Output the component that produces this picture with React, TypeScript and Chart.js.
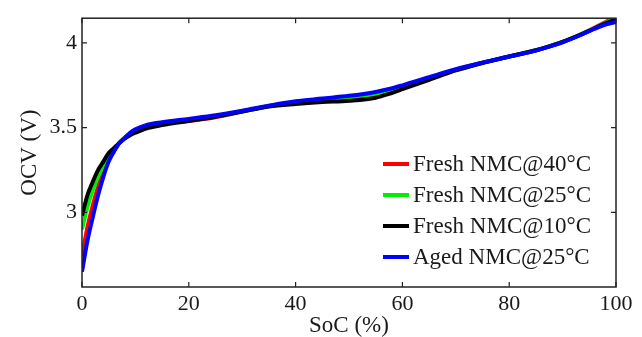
import React, { useEffect, useRef } from "react";
import { Chart, registerables } from "chart.js";

Chart.register(...registerables);

const soc = [0, 1, 2, 3, 4, 5, 6, 7, 8, 9, 10, 12, 15, 20, 25, 30, 35, 40, 45, 50, 55, 57.5, 60, 65, 70, 75, 80, 85, 87.5, 90, 92.5, 95, 97.5, 100];
const fresh40 = [2.74, 2.91, 3.04, 3.15, 3.24, 3.31, 3.37, 3.41, 3.44, 3.465, 3.485, 3.51, 3.525, 3.54, 3.562, 3.595, 3.628, 3.652, 3.668, 3.682, 3.703, 3.72, 3.742, 3.793, 3.843, 3.884, 3.92, 3.957, 3.98, 4.006, 4.038, 4.075, 4.115, 4.155];
const fresh25 = [2.90, 3.03, 3.13, 3.21, 3.28, 3.33, 3.37, 3.41, 3.44, 3.465, 3.48, 3.505, 3.522, 3.545, 3.567, 3.597, 3.628, 3.65, 3.662, 3.675, 3.695, 3.714, 3.737, 3.789, 3.841, 3.883, 3.92, 3.957, 3.98, 4.006, 4.037, 4.073, 4.11, 4.145];
const fresh10 = [2.98, 3.10, 3.18, 3.25, 3.30, 3.35, 3.38, 3.41, 3.435, 3.455, 3.47, 3.495, 3.515, 3.54, 3.565, 3.595, 3.625, 3.64, 3.651, 3.659, 3.677, 3.70, 3.727, 3.782, 3.838, 3.882, 3.92, 3.957, 3.98, 4.006, 4.037, 4.072, 4.108, 4.14];
const aged25 = [2.65, 2.83, 2.97, 3.10, 3.21, 3.30, 3.36, 3.41, 3.44, 3.47, 3.49, 3.515, 3.532, 3.552, 3.573, 3.60, 3.63, 3.656, 3.672, 3.688, 3.711, 3.728, 3.75, 3.798, 3.845, 3.884, 3.92, 3.955, 3.978, 4.004, 4.035, 4.07, 4.103, 4.124];

const seriesLabels = ["Fresh NMC@40°C", "Fresh NMC@25°C", "Fresh NMC@10°C", "Aged NMC@25°C"];
const seriesColors = ["#ff0000", "#00ee00", "#000000", "#0000ff"];
const seriesValues = [fresh40, fresh25, fresh10, aged25];
const xTicks = [0, 20, 40, 60, 80, 100];
const yTicks = [3, 3.5, 4];

const FONT = "'Liberation Serif', 'Times New Roman', serif";

const framePlugin = {
  id: "frame",
  afterDraw(chart: any) {
    const { ctx, chartArea } = chart;
    const { left, right, top, bottom } = chartArea;
    const xs = chart.scales.x;
    const ys = chart.scales.y;
    ctx.save();
    ctx.strokeStyle = "#222";
    ctx.lineWidth = 1.5;
    ctx.strokeRect(left, top, right - left, bottom - top);
    ctx.lineWidth = 1.2;
    const tl = 5;
    ctx.beginPath();
    xTicks.forEach((v) => {
      const px = xs.getPixelForValue(v);
      ctx.moveTo(px, bottom);
      ctx.lineTo(px, bottom - tl);
      ctx.moveTo(px, top);
      ctx.lineTo(px, top + tl);
    });
    yTicks.forEach((v) => {
      const py = ys.getPixelForValue(v);
      ctx.moveTo(left, py);
      ctx.lineTo(left + tl, py);
      ctx.moveTo(right, py);
      ctx.lineTo(right - tl, py);
    });
    ctx.stroke();

    // legend inside plot, bottom right
    const lx0 = 383;
    const lx1 = 409;
    const ty0 = 164;
    const step = 31;
    ctx.font = `23px ${FONT}`;
    ctx.textBaseline = "middle";
    ctx.textAlign = "left";
    chart.data.datasets.forEach((ds: any, i: number) => {
      const y = ty0 + i * step;
      ctx.strokeStyle = ds.borderColor;
      ctx.lineWidth = 4;
      ctx.beginPath();
      ctx.moveTo(lx0, y);
      ctx.lineTo(lx1, y);
      ctx.stroke();
      ctx.fillStyle = "#1a1a1a";
      ctx.fillText(ds.label, 413, y + 1);
    });
    ctx.restore();
  },
};

export default function App() {
  const ref = useRef<HTMLCanvasElement>(null);
  useEffect(() => {
    const chart = new Chart(ref.current!, {
      type: "line",
      data: {
        datasets: seriesValues.map((vals, i) => ({
          label: seriesLabels[i],
          data: soc.map((s, j) => ({ x: s, y: vals[j] })),
          borderColor: seriesColors[i],
          backgroundColor: seriesColors[i],
          borderWidth: 4,
          pointRadius: 0,
          cubicInterpolationMode: "monotone" as const,
          fill: false,
          order: seriesValues.length - 1 - i,
        })),
      },
      options: {
        animation: false,
        responsive: false,
        maintainAspectRatio: false,
        layout: { padding: { top: 13, right: 26, left: 0, bottom: 0 } },
        plugins: { legend: { display: false }, tooltip: { enabled: false } },
        scales: {
          x: {
            type: "linear",
            min: 0,
            max: 100,
            afterFit: (s: any) => {
              s.height = 50;
            },
            afterBuildTicks: (s: any) => {
              s.ticks = xTicks.map((v) => ({ value: v }));
            },
            grid: { display: false, drawTicks: false },
            border: { display: false },
            ticks: {
              padding: 4,
              color: "#1a1a1a",
              font: { family: FONT, size: 22 },
              maxRotation: 0,
            },
            title: {
              display: true,
              text: "SoC (%)",
              color: "#1a1a1a",
              font: { family: FONT, size: 23, lineHeight: 1 },
              padding: { top: 0, bottom: 0 },
            },
          },
          y: {
            type: "linear",
            min: 2.56,
            max: 4.146,
            afterFit: (s: any) => {
              s.width = 82;
            },
            afterBuildTicks: (s: any) => {
              s.ticks = yTicks.map((v) => ({ value: v }));
            },
            grid: { display: false, drawTicks: false },
            border: { display: false },
            ticks: {
              padding: 5,
              color: "#1a1a1a",
              font: { family: FONT, size: 22 },
              callback: (v: any) => String(v),
            },
            title: {
              display: true,
              text: "OCV (V)",
              color: "#1a1a1a",
              font: { family: FONT, size: 23, lineHeight: 1 },
              padding: { top: 18, bottom: 0 },
            },
          },
        },
      },
      plugins: [framePlugin],
    });
    return () => chart.destroy();
  }, []);
  return (
    <div style={{ position: "fixed", left: 0, top: 0, width: 642, height: 337, background: "#fff" }}>
      <canvas ref={ref} width={642} height={337} style={{ display: "block" }} />
    </div>
  );
}
